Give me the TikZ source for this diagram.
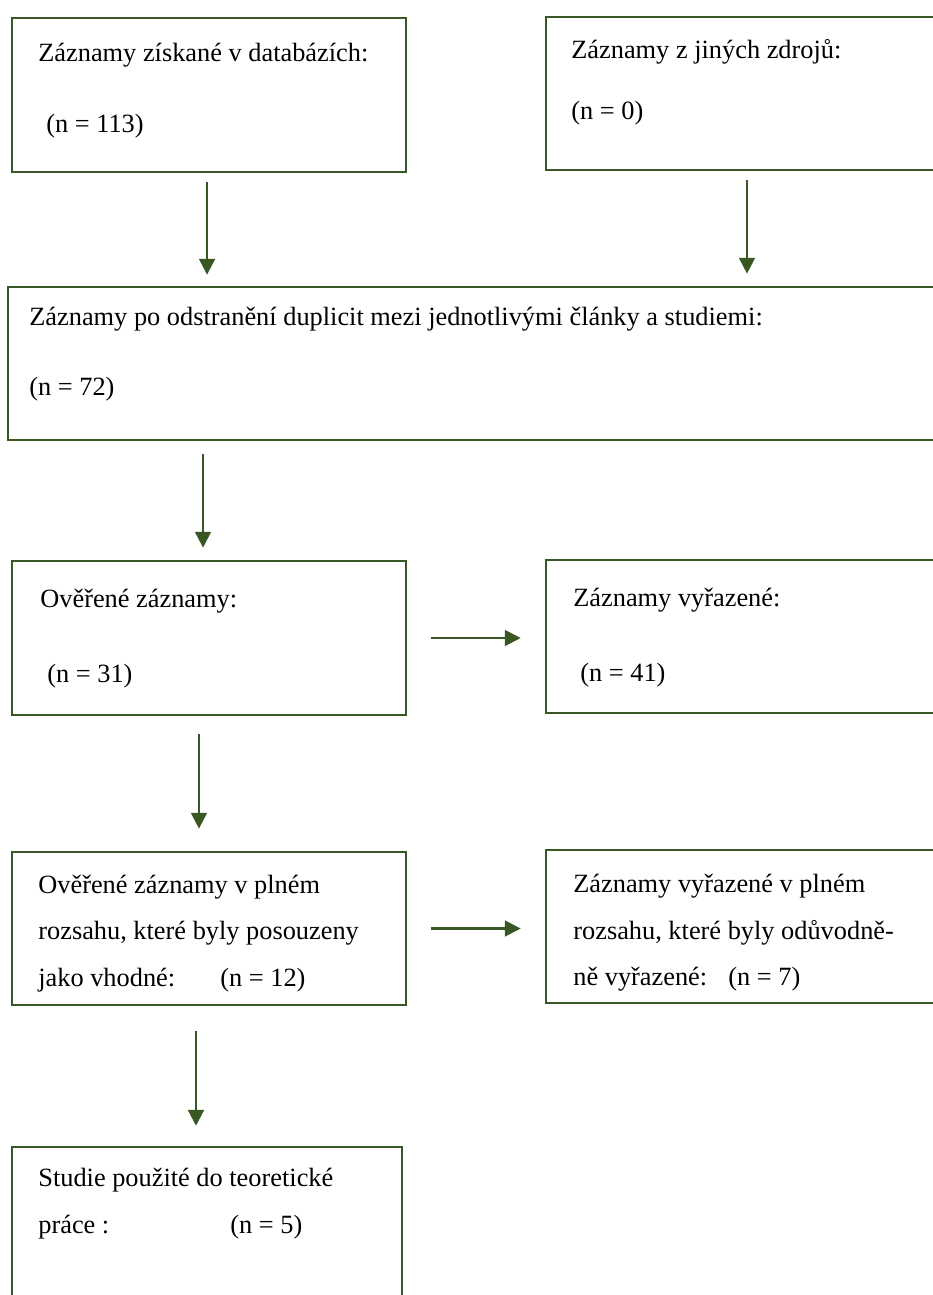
\documentclass[tikz,border=0pt]{standalone}
\usepackage{fontspec}
\setmainfont{Liberation Serif}
\usetikzlibrary{arrows.meta,fit}
\definecolor{prismagreen}{RGB}{56,87,35}
\tikzset{
  recbox/.style={draw=prismagreen, line width=1.6pt, inner sep=0pt},
  rectxt/.style={anchor=base west, inner sep=0pt, font=\fontsize{15}{18}\selectfont},
  recarrow/.style={draw=prismagreen, line width=1.2pt, -{Triangle[length=9pt,width=9pt]}}
}
\begin{document}
\begin{tikzpicture}[x=0.02cm, y=-0.02cm]
    \useasboundingbox (0,0) rectangle (933,1295);
    % Kasten
    \node (rec1) [recbox, fit={(12,18) (406,172)}] {};
    \node (rec2) [recbox, fit={(546,17) (948,170)}] {};
    \node (rec3) [recbox, fit={(8,287) (948,440)}] {};
    \node (rec4) [recbox, fit={(12,561) (406,715)}] {};
    \node (rec5) [recbox, fit={(546,560) (948,713)}] {};
    \node (rec6) [recbox, fit={(12,852) (406,1005)}] {};
    \node (rec7) [recbox, fit={(546,850) (948,1003)}] {};
    \node (rec8) [recbox, fit={(12,1147) (402,1320)}] {};
    % Texte
    \node (t1a) [rectxt] at (38,61) {Záznamy získané v databázích:};
    \node (t1b) [rectxt] at (46,132) {(n = 113)};
    \node (t2a) [rectxt] at (571,58) {Záznamy z jiných zdrojů:};
    \node (t2b) [rectxt] at (571,119) {(n = 0)};
    \node (t3a) [rectxt] at (29,325) {Záznamy po odstranění duplicit mezi jednotlivými články a studiemi:};
    \node (t3b) [rectxt] at (29,395) {(n = 72)};
    \node (t4a) [rectxt] at (40,607) {Ověřené záznamy:};
    \node (t4b) [rectxt] at (47,682) {(n = 31)};
    \node (t5a) [rectxt] at (573,606) {Záznamy vyřazené:};
    \node (t5b) [rectxt] at (580,681) {(n = 41)};
    \node (t6a) [rectxt] at (38,893) {Ověřené záznamy v plném};
    \node (t6b) [rectxt] at (38,939) {rozsahu, které byly posouzeny};
    \node (t6c) [rectxt] at (38,986) {jako vhodné:};
    \node (t6d) [rectxt] at (220,986) {(n = 12)};
    \node (t7a) [rectxt] at (573,892) {Záznamy vyřazené v plném};
    \node (t7b) [rectxt] at (573,939) {rozsahu, které byly odůvodně-};
    \node (t7c) [rectxt] at (573,985) {ně vyřazené:};
    \node (t7d) [rectxt] at (728,985) {(n = 7)};
    \node (t8a) [rectxt] at (38,1186) {Studie použité do teoretické};
    \node (t8b) [rectxt] at (38,1233) {práce :};
    \node (t8c) [rectxt] at (230,1233) {(n = 5)};
    % Pfeile
    \draw[recarrow, shorten <=5.1pt, shorten >=6.2pt] ([xshift=-1.1pt]rec1.south) -- ([xshift=-1.1pt]rec1.south |- rec3.north);
    \draw[recarrow, shorten <=5.1pt, shorten >=6.8pt] (rec2.south) -- (rec2.south |- rec3.north);
    \draw[recarrow, shorten <=7.4pt, shorten >=6.8pt] ([xshift=-3.4pt]rec4.north |- rec3.south) -- ([xshift=-3.4pt]rec4.north);
    \draw[recarrow, shorten <=10.2pt, shorten >=12.5pt] ([xshift=-5.7pt]rec4.south) -- ([xshift=-5.7pt]rec4.south |- rec6.north);
    \draw[recarrow, shorten <=14pt, shorten >=11.3pt] ([xshift=-7.4pt]rec6.south) -- ([xshift=-7.4pt]rec6.south |- rec8.north);
    \draw[recarrow, shorten <=13.6pt, shorten >=13.6pt] (rec4.east) -- (rec4.east -| rec5.west);
    \draw[recarrow, shorten <=13.6pt, shorten >=13.6pt] (rec6.east) -- (rec6.east -| rec7.west);
\end{tikzpicture}
\end{document}
